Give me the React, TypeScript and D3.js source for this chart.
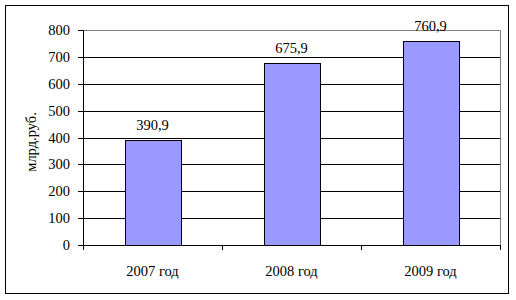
import React from "react";
import * as d3 from "d3";

const categories = ["2007 год", "2008 год", "2009 год"];
const values = [390.9, 675.9, 760.9];
const valueLabels = ["390,9", "675,9", "760,9"];
const yTicks = [0, 100, 200, 300, 400, 500, 600, 700, 800];
const yTitle = "млрд.руб.";

export default function App() {
  const W = 516, H = 300;
  const left = 83, right = 500, top = 30, bottom = 245;
  const band = d3.scaleBand<string>().domain(categories).range([left, right]);
  const y = d3.scaleLinear().domain([0, 800]).range([bottom, top]);
  const font = "'Liberation Serif', 'Times New Roman', serif";
  const bw = band.bandwidth() * 0.4;
  const fs = 14.5;
  return (
    <svg width={W} height={H} style={{ position: "absolute", left: 0, top: 0 }} fontFamily={font}>
      <rect x={0} y={0} width={W} height={H} fill="white" />
      <rect x={5.5} y={5.5} width={503} height={288} fill="white" stroke="black" strokeWidth={1} />
      <path d={`M${left},${top + 0.5}H${right + 0.5}V${bottom}`} fill="none" stroke="#808080" />
      {yTicks.filter(t => t > 0 && t < 800).map(t => (
        <line key={t} x1={left} x2={right} y1={Math.round(y(t)) + 0.5} y2={Math.round(y(t)) + 0.5} stroke="black" />
      ))}
      {categories.map((c, i) => {
        const cx = (band(c) as number) + band.bandwidth() / 2;
        const bx = Math.round(cx - bw / 2) + 0.5;
        const by = Math.round(y(values[i])) + 0.5;
        return (
          <g key={c}>
            <rect x={bx} y={by} width={Math.round(bw)} height={bottom - by + 0.5} fill="#9999FF" stroke="black" />
            <text x={cx} y={y(values[i]) - 10} textAnchor="middle" fontSize={fs}>{valueLabels[i]}</text>
            <text x={cx} y={276} textAnchor="middle" fontSize={fs}>{c}</text>
          </g>
        );
      })}
      <line x1={left + 0.5} x2={left + 0.5} y1={top} y2={bottom + 5} stroke="black" />
      <line x1={left} x2={right + 1} y1={bottom + 0.5} y2={bottom + 0.5} stroke="black" />
      {yTicks.map(t => (
        <g key={t}>
          <line x1={left - 5} x2={left} y1={Math.round(y(t)) + 0.5} y2={Math.round(y(t)) + 0.5} stroke="black" />
          <text x={left - 13} y={y(t) + 5} textAnchor="end" fontSize={fs}>{t}</text>
        </g>
      ))}
      {categories.concat([""]).map((c, i) => {
        const tx = Math.round(left + i * band.bandwidth()) + 0.5;
        return <line key={i} x1={tx} x2={tx} y1={bottom} y2={bottom + 5} stroke="black" />;
      })}
      <text transform={`translate(36,142) rotate(-90)`} textAnchor="middle" fontSize={14.5}>{yTitle}</text>
    </svg>
  );
}
